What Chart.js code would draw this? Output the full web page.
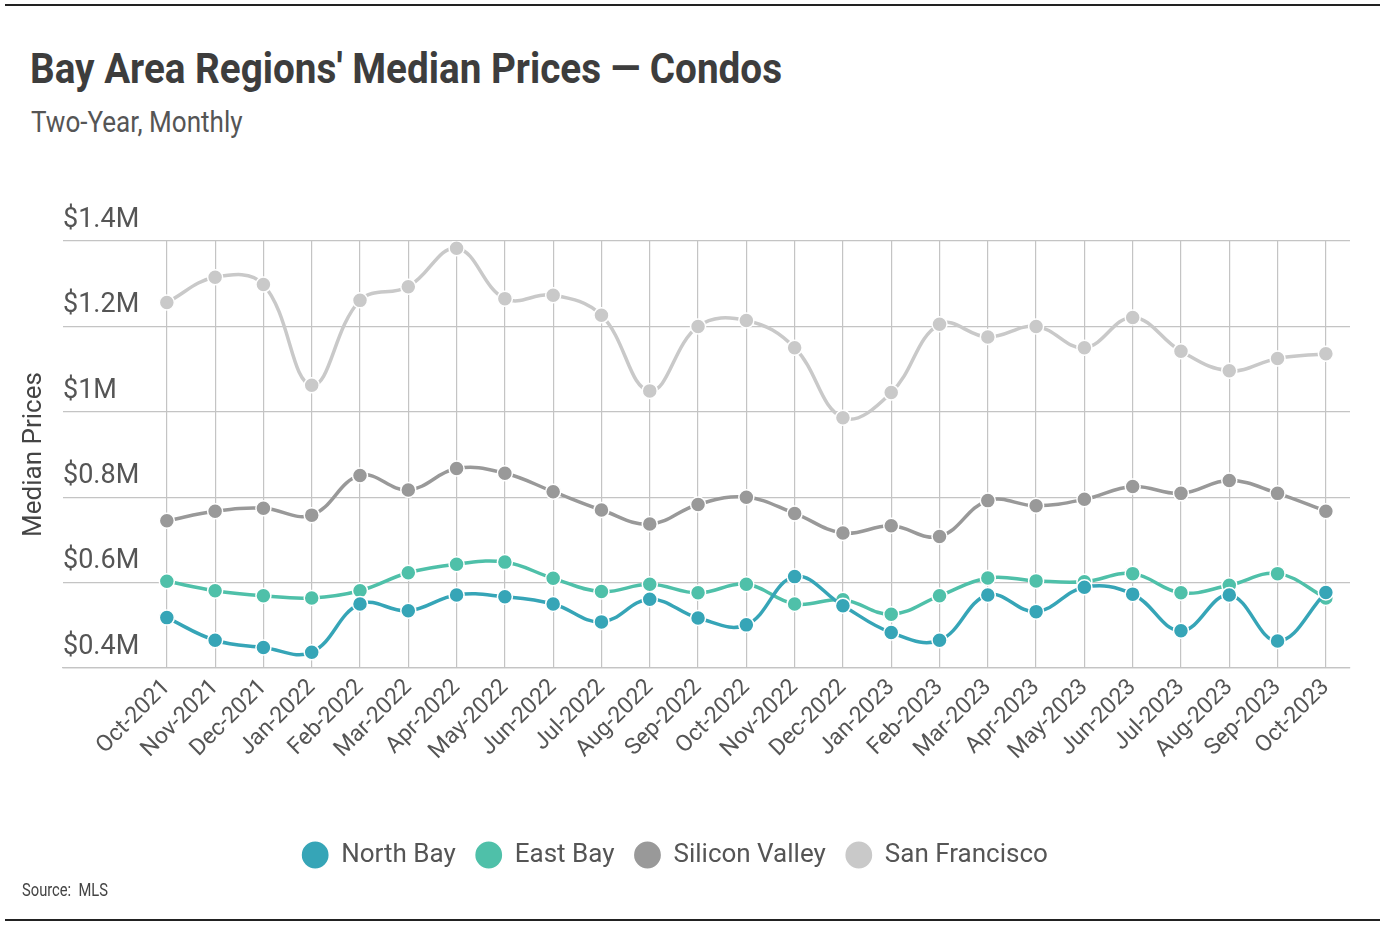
<!DOCTYPE html>
<html>
<head>
<meta charset="utf-8">
<script src="https://cdn.jsdelivr.net/npm/chart.js@4.4.0/dist/chart.umd.min.js"></script>
<style>
  html, body { margin: 0; padding: 0; background: #fff; }
  body { width: 1392px; height: 938px; position: relative; overflow: hidden; font-family: 'Roboto', sans-serif; }
  .rule { position: absolute; left: 5px; width: 1375px; height: 2px; background: #222; }
  .squeeze { position: absolute; white-space: nowrap; transform-origin: 0 0; }
  #title { left: 30px; top: 44px; font-size: 42px; font-weight: bold; color: #3d3d3d; }
  #subtitle { left: 31px; top: 105px; font-size: 29px; color: #555; }
  #source { left: 22px; top: 878px; font-size: 19px; color: #444; }
  #wrap { position: absolute; left: 0; top: 0; width: 1392px; height: 938px; }
</style>
</head>
<body>
<div class="rule" style="top:4px"></div>
<div id="title" class="squeeze" data-w="752">Bay Area Regions' Median Prices — Condos</div>
<div id="subtitle" class="squeeze" data-w="212">Two-Year, Monthly</div>
<div id="wrap"><canvas id="chart"></canvas></div>
<div id="source" class="squeeze" data-w="86">Source:&nbsp; MLS</div>
<div class="rule" style="top:919px"></div>
<script>
const months = ['Oct-2021', 'Nov-2021', 'Dec-2021', 'Jan-2022', 'Feb-2022', 'Mar-2022', 'Apr-2022',
  'May-2022', 'Jun-2022', 'Jul-2022', 'Aug-2022', 'Sep-2022', 'Oct-2022', 'Nov-2022', 'Dec-2022',
  'Jan-2023', 'Feb-2023', 'Mar-2023', 'Apr-2023', 'May-2023', 'Jun-2023', 'Jul-2023', 'Aug-2023',
  'Sep-2023', 'Oct-2023'];

// median prices, $ millions
const northBay = [0.518, 0.465, 0.448, 0.437, 0.550, 0.534, 0.571, 0.567, 0.550, 0.508, 0.561, 0.517,
  0.501, 0.614, 0.546, 0.483, 0.465, 0.571, 0.532, 0.589, 0.573, 0.487, 0.571, 0.463, 0.577];
const eastBay = [0.603, 0.581, 0.569, 0.564, 0.581, 0.623, 0.643, 0.648, 0.610, 0.579, 0.596, 0.576,
  0.596, 0.550, 0.560, 0.526, 0.569, 0.611, 0.604, 0.602, 0.621, 0.576, 0.594, 0.621, 0.564];
const siliconValley = [0.745, 0.767, 0.774, 0.758, 0.851, 0.817, 0.867, 0.856, 0.813, 0.770, 0.737, 0.783,
  0.800, 0.762, 0.716, 0.733, 0.708, 0.792, 0.780, 0.795, 0.825, 0.809, 0.839, 0.809, 0.767];
const sanFrancisco = [1.256, 1.315, 1.298, 1.062, 1.261, 1.293, 1.383, 1.265, 1.273, 1.226, 1.049, 1.200,
  1.214, 1.150, 0.986, 1.045, 1.205, 1.175, 1.200, 1.150, 1.221, 1.142, 1.096, 1.125, 1.136];

const yTickValues = [0.4, 0.6, 0.8, 1.0, 1.2, 1.4];
const yTickLabels = ['$0.4M', '$0.6M', '$0.8M', '$1M', '$1.2M', '$1.4M'];

const FONT = "'Roboto', sans-serif";

// narrow the html texts to the widths seen in the reference
document.querySelectorAll('.squeeze').forEach(el => {
  el.style.transform = `scaleX(${el.dataset.w / el.offsetWidth})`;
});

function series(label, values, color) {
  return {
    label: label,
    data: values.map((v, i) => ({ x: i, y: v })),
    borderColor: color,
    backgroundColor: color,
    pointBackgroundColor: color,
    pointBorderColor: '#fff',
    pointBorderWidth: 1.5,
    pointRadius: 7.5,
    borderWidth: 3.5,
    tension: 0.4
  };
}

const ctx = document.getElementById('chart').getContext('2d');
new Chart(ctx, {
  type: 'line',
  data: {
    datasets: [
      series('North Bay', northBay, '#36a5b7'),
      series('East Bay', eastBay, '#4fc0a9'),
      series('Silicon Valley', siliconValley, '#999999'),
      series('San Francisco', sanFrancisco, '#c9c9c9')
    ]
  },
  options: {
    responsive: true,
    maintainAspectRatio: false,
    animation: false,
    layout: { padding: { top: 241, right: 42, bottom: 60, left: 0 } },
    plugins: {
      tooltip: { enabled: false },
      legend: {
        position: 'bottom',
        labels: {
          usePointStyle: true,
          pointStyle: 'circle',
          boxHeight: 20,
          padding: 20,
          color: '#555',
          font: { family: FONT, size: 26 }
        }
      }
    },
    scales: {
      x: {
        type: 'linear',
        min: -2.15,
        max: 24.5,
        afterBuildTicks: (scale) => { scale.ticks = months.map((m, i) => ({ value: i })); },
        afterFit: (scale) => { scale.height = 154; },
        grid: { color: '#c4c4c4', lineWidth: 1.2, drawTicks: false },
        border: { color: '#c4c4c4', width: 1.2 },
        ticks: {
          autoSkip: false,
          maxRotation: 45,
          minRotation: 45,
          padding: 6,
          color: '#555',
          font: { family: FONT, size: 23 },
          callback: (v) => months[v]
        }
      },
      y: {
        min: 0.4,
        max: 1.4,
        afterBuildTicks: (scale) => { scale.ticks = yTickValues.map(v => ({ value: v })); },
        afterFit: (scale) => { scale.width = 63; },
        grid: { color: '#c4c4c4', lineWidth: 1.2, drawTicks: false },
        border: { display: false },
        title: {
          display: true,
          text: 'Median Prices',
          color: '#444',
          font: { family: FONT, size: 26 },
          padding: { top: 19, bottom: 0 }
        },
        ticks: {
          mirror: true,
          padding: 0,
          labelOffset: -21,
          color: '#555',
          font: { family: FONT, size: 27 },
          callback: (v) => yTickLabels[yTickValues.findIndex(t => Math.abs(t - v) < 1e-6)]
        }
      }
    }
  }
});
</script>
</body>
</html>
